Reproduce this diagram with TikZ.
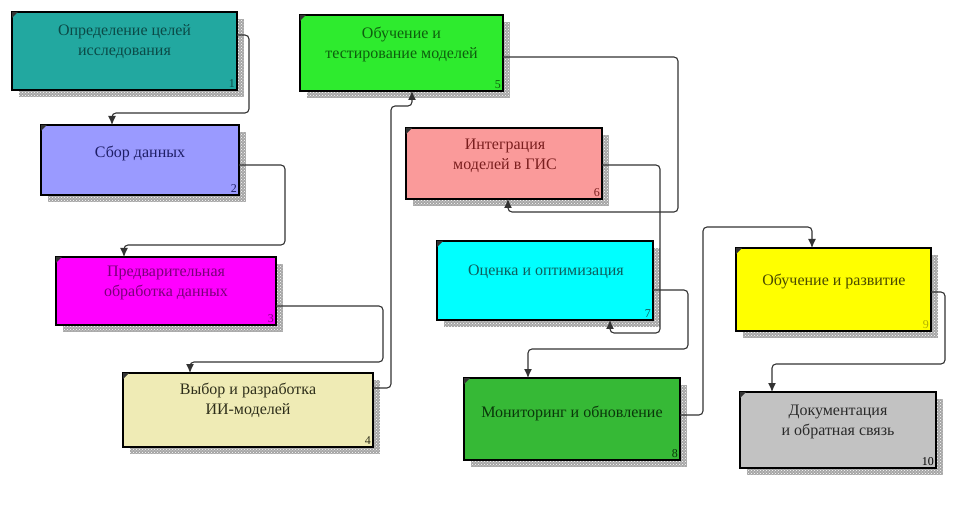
\documentclass[tikz,border=0pt]{standalone}
\usepackage{fontspec}
\setmainfont{Liberation Serif}
\usetikzlibrary{patterns,fit,arrows.meta}

\tikzset{
  boxst/.style={draw=black, line width=2pt, inner sep=0pt, outer sep=0pt},
  shadowst/.style={fill=black!35},
  shadowdots/.style={pattern=crosshatch dots, pattern color=white},
  boxtext/.style={align=center, inner sep=0pt, font=\fontsize{16}{20}\selectfont},
  numst/.style={font=\fontsize{12}{12}\selectfont, inner sep=2pt, anchor=south east},
  conn/.style={draw=black!80, line width=1.1pt, rounded corners=4pt, -{Latex[length=9pt,width=8pt]}},
}

\definecolor{f1}{HTML}{22A8A0}\definecolor{t1}{HTML}{0B4A47}
\definecolor{f2}{HTML}{9A9AFF}\definecolor{t2}{HTML}{1E1E66}
\definecolor{f3}{HTML}{FF00FF}\definecolor{t3}{HTML}{7A007A}
\definecolor{f4}{HTML}{EFEBB5}\definecolor{t4}{HTML}{2E2E1A}
\definecolor{f5}{HTML}{2EEB2E}\definecolor{t5}{HTML}{0E5E0E}
\definecolor{f6}{HTML}{FA9A9A}\definecolor{t6}{HTML}{7A1E1E}
\definecolor{f7}{HTML}{00FFFF}\definecolor{t7}{HTML}{0E5E5E}
\definecolor{f8}{HTML}{36B936}\definecolor{t8}{HTML}{0A360A}
\definecolor{f9}{HTML}{FFFF00}\definecolor{t9}{HTML}{4A4A00}
\definecolor{f10}{HTML}{C2C2C2}\definecolor{t10}{HTML}{2A2A2A}

% name, x1, y1, x2, y2, fill, number colour, number
\newcommand\idefbox[8]{%
  \fill[shadowst] (#2+7,#3+7) rectangle (#4+7,#5+7);
  \fill[shadowdots] (#2+7,#3+7) rectangle (#4+7,#5+7);
  \node[boxst, fill=#6, fit={(#2,#3) (#4,#5)}] (#1) {};
  \fill[black!80] (#1.north west) -- ++(6,0) -- ++(-6,6) -- cycle;
  \node[numst, text=#7] (#1n) at (#1.south east) {#8};
}

\begin{document}
\begin{tikzpicture}[x=1pt, y=-1pt]
  \useasboundingbox[fill=white] (0,0) rectangle (962,505);

  \idefbox{b1}{12}{12}{237}{90}{f1}{t1}{1}
  \idefbox{b2}{41}{125}{239}{195}{f2}{t2}{2}
  \idefbox{b3}{56}{257}{276}{325}{f3}{t3}{3}
  \idefbox{b4}{123}{373}{373}{447}{f4}{t4}{4}
  \idefbox{b5}{300}{15}{503}{91}{f5}{t5}{5}
  \idefbox{b6}{406}{128}{602}{199}{f6}{t6}{6}
  \idefbox{b7}{437}{241}{653}{320}{f7}{t7}{7}
  \idefbox{b8}{464}{378}{680}{460}{f8}{t8}{8}
  \idefbox{b9}{736}{248}{931}{331}{f9}{f9!70!black}{9}
  \idefbox{b10}{740}{392}{936}{468}{f10}{black}{10}

  \node[boxtext, text=t1] (x1) at (124.5,42) {Определение целей\\исследования};
  \node[boxtext, text=t2] (x2) at (140,153) {Сбор данных};
  \node[boxtext, text=t3] (x3) at (166,283) {Предварительная\\обработка данных};
  \node[boxtext, text=t4] (x4) at (248,400) {Выбор и разработка\\ИИ-моделей};
  \node[boxtext, text=t5] (x5) at (401.5,44) {Обучение и\\тестирование моделей};
  \node[boxtext, text=t6] (x6) at (505,156) {Интеграция\\моделей в ГИС};
  \node[boxtext, text=t7] (x7) at (546,272) {Оценка и оптимизация};
  \node[boxtext, text=t8] (x8) at (572,413) {Мониторинг и обновление};
  \node[boxtext, text=t9] (x9) at (834,282) {Обучение и развитие};
  \node[boxtext, text=t10] (x10) at (838,422) {Документация\\и обратная связь};

  \draw[conn] (b1.east |- 0,35) -- (249,35) -- (249,113) -- (112,113) -- (b2.north -| 112,0);
  \draw[conn] (b2.east |- 0,165) -- (285,165) -- (285,245) -- (124,245) -- (b3.north -| 124,0);
  \draw[conn] (b3.east |- 0,306) -- (383,306) -- (383,362) -- (190,362) -- (b4.north -| 190,0);
  \draw[conn] (b4.east |- 0,388) -- (391,388) -- (391,106) -- (412,106) -- (b5.south -| 412,0);
  \draw[conn] (b5.east |- 0,57) -- (678,57) -- (678,212) -- (508,212) -- (b6.south -| 508,0);
  \draw[conn] (b6.east |- 0,165) -- (660,165) -- (660,333) -- (610,333) -- (b7.south -| 610,0);
  \draw[conn] (b7.east |- 0,290) -- (688,290) -- (688,349) -- (528,349) -- (b8.north -| 528,0);
  \draw[conn] (b8.east |- 0,415) -- (703,415) -- (703,227) -- (812,227) -- (b9.north -| 812,0);
  \draw[conn] (b9.east |- 0,292) -- (945,292) -- (945,364) -- (772,364) -- (b10.north -| 772,0);
\end{tikzpicture}
\end{document}
